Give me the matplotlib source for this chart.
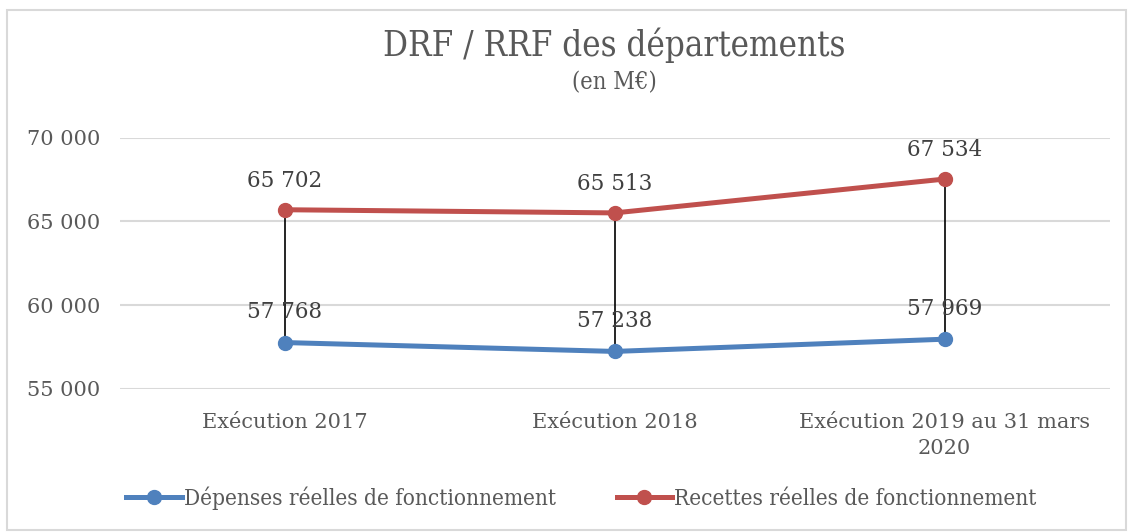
import matplotlib
matplotlib.use("Agg")
import matplotlib.pyplot as plt
from matplotlib.patches import Rectangle

categories = ["Exécution 2017", "Exécution 2018", "Exécution 2019 au 31 mars\n2020"]
depenses = [57768, 57238, 57969]
recettes = [65702, 65513, 67534]
yticks = [55000, 60000, 65000, 70000]

BLUE = "#4F81BD"
RED = "#C0504D"
GREY = "#595959"
SERIF = "DejaVu Serif"


def fr(v):
    return f"{v:,}".replace(",", " ")


fig = plt.figure(figsize=(11.31, 5.32), dpi=100)
ax = fig.add_axes([0.106, 0.269, 0.875, 0.472])
x = list(range(len(categories)))

# high-low lines
for xi, lo, hi in zip(x, depenses, recettes):
    ax.plot([xi, xi], [lo, hi], color="black", lw=1.2, zorder=2)

ax.plot(x, depenses, color=BLUE, lw=3.6, marker="o", ms=10, zorder=3,
        label="Dépenses réelles de fonctionnement")
ax.plot(x, recettes, color=RED, lw=3.6, marker="o", ms=10, zorder=3,
        label="Recettes réelles de fonctionnement")

for xi, v in zip(x, depenses):
    ax.annotate(fr(v), (xi, v), xytext=(0, 14), textcoords="offset points",
                ha="center", va="bottom", fontsize=15.5, color="#404040", family=SERIF)
for xi, v in zip(x, recettes):
    ax.annotate(fr(v), (xi, v), xytext=(0, 13), textcoords="offset points",
                ha="center", va="bottom", fontsize=15.5, color="#404040", family=SERIF)

ax.set_xlim(-0.5, 2.5)
ax.set_ylim(55000, 70000)
ax.set_yticks(yticks)
ax.set_yticklabels([fr(t) for t in yticks], fontsize=15, color=GREY, family=SERIF)
ax.set_xticks(x)
ax.set_xticklabels(categories, fontsize=15, color=GREY, family=SERIF, linespacing=1.5)
ax.tick_params(axis="x", length=0, pad=17)
ax.tick_params(axis="y", length=0, pad=14)
ax.grid(axis="y", color="#D9D9D9", lw=1.5)
ax.set_axisbelow(True)
for s in ax.spines.values():
    s.set_visible(False)

fig.text(0.543, 0.915, "DRF / RRF des départements", ha="center", va="center",
         fontsize=25, color=GREY, family=SERIF, fontstretch="condensed")
fig.text(0.543, 0.845, "(en M€)", ha="center", va="center",
         fontsize=17, color=GREY, family=SERIF, fontstretch="condensed")

fig.legend(loc="center", bbox_to_anchor=(0.514, 0.063), ncol=2, frameon=False,
           handlelength=2.45, handletextpad=0.1, columnspacing=2.7,
           prop={"family": SERIF, "size": 16.2, "stretch": "condensed"})
for t in fig.legends[0].get_texts():
    t.set_color(GREY)

fig.patches.append(Rectangle((0.006, 0.004), 0.99, 0.978, transform=fig.transFigure,
                             fill=False, edgecolor="#D9D9D9", lw=1.5))

fig.savefig("out.png", dpi=100)
